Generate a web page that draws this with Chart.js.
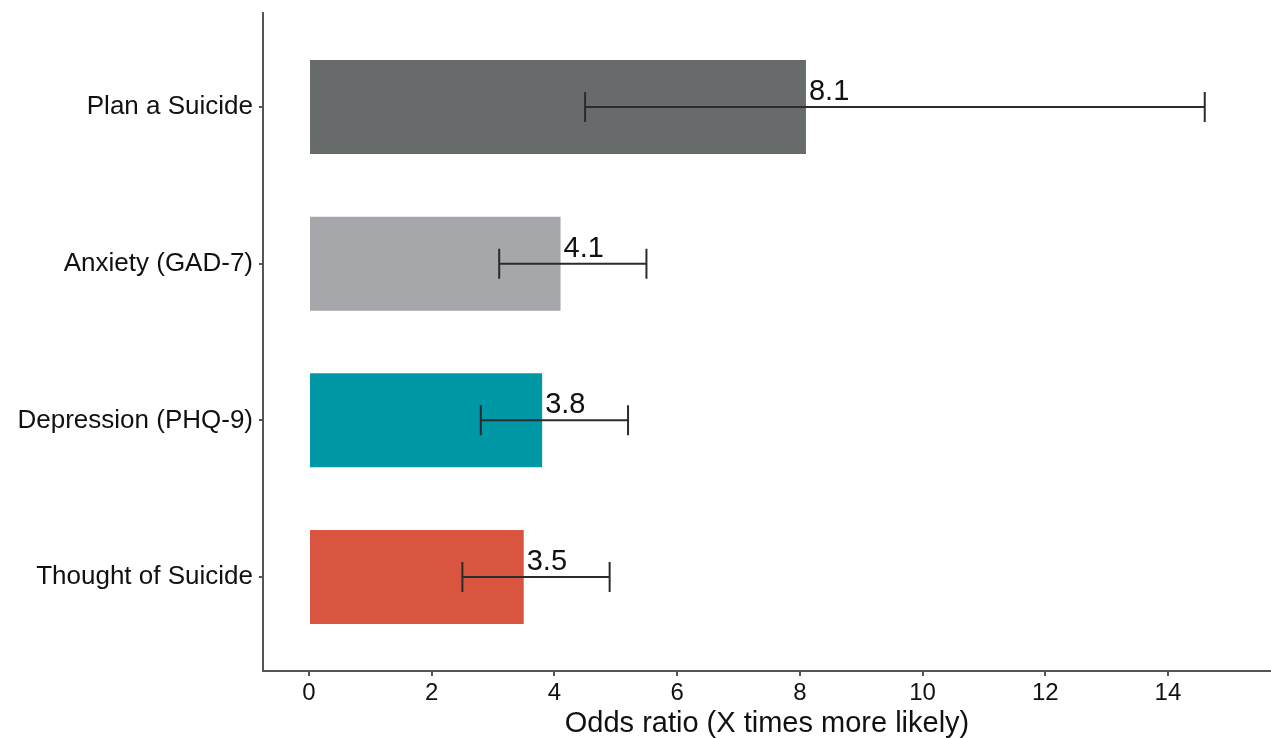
<!DOCTYPE html>
<html>
<head>
<meta charset="utf-8">
<title>Odds ratio</title>
<script src="https://cdn.jsdelivr.net/npm/chart.js@4/dist/chart.umd.min.js"></script>
<style>
  html, body { margin: 0; padding: 0; background: #ffffff; }
  #wrap { width: 1271px; height: 738px; position: relative; }
</style>
</head>
<body>
<div id="wrap"><canvas id="chart"></canvas></div>
<script>
// Outcomes, listed from top to bottom
const categories = ['Plan a Suicide', 'Anxiety (GAD-7)', 'Depression (PHQ-9)', 'Thought of Suicide'];
// Odds ratio per outcome
const oddsRatio = [8.1, 4.1, 3.8, 3.5];
// 95% confidence interval bounds
const ciLow = [4.5, 3.1, 2.8, 2.5];
const ciHigh = [14.6, 5.5, 5.2, 4.9];
// Bar fill colours
const barColors = ['#676b6b', '#a6a7aa', '#0098a7', '#d9553f'];
// X axis tick values
const xTicks = [0, 2, 4, 6, 8, 10, 12, 14];

const FONT = "'Liberation Sans', Arial, Helvetica, sans-serif";
const INK = '#111111';
const AXIS = '#555555';

const points = oddsRatio.map((v, i) => ({ x: v, y: i + 1 }));

// Error bars with caps, plus the value label next to each bar
const ciPlugin = {
  id: 'ciBars',
  afterDatasetsDraw(chart) {
    const { ctx, scales: { x, y } } = chart;
    ctx.save();
    ctx.strokeStyle = '#2b2b2b';
    ctx.lineWidth = 2;
    const cap = 15;
    oddsRatio.forEach((v, i) => {
      const py = y.getPixelForValue(i + 1);
      const x0 = x.getPixelForValue(ciLow[i]);
      const x1 = x.getPixelForValue(ciHigh[i]);
      ctx.beginPath();
      ctx.moveTo(x0, py); ctx.lineTo(x1, py);
      ctx.moveTo(x0, py - cap); ctx.lineTo(x0, py + cap);
      ctx.moveTo(x1, py - cap); ctx.lineTo(x1, py + cap);
      ctx.stroke();
    });
    ctx.fillStyle = INK;
    ctx.font = '29px ' + FONT;
    ctx.textAlign = 'left';
    ctx.textBaseline = 'alphabetic';
    oddsRatio.forEach((v, i) => {
      const py = y.getPixelForValue(i + 1);
      const px = x.getPixelForValue(v);
      ctx.fillText(v.toFixed(1), px + 3, py - 7);
    });
    ctx.restore();
  }
};

new Chart(document.getElementById('chart'), {
  type: 'bar',
  data: {
    datasets: [{
      data: points,
      backgroundColor: barColors,
      borderWidth: 0,
      barPercentage: 0.6,
      categoryPercentage: 1.0
    }]
  },
  options: {
    indexAxis: 'y',
    responsive: true,
    maintainAspectRatio: false,
    animation: false,
    layout: { padding: { top: 13, right: 0, left: 0, bottom: 0 } },
    plugins: { legend: { display: false }, tooltip: { enabled: false } },
    scales: {
      x: {
        type: 'linear',
        min: -0.75,
        max: 15.68,
        offset: false,
        afterBuildTicks(scale) { scale.ticks = xTicks.map(v => ({ value: v })); },
        afterFit(scale) { scale.height = 67; scale.paddingLeft = 0; scale.paddingRight = 0; },
        grid: { display: true, offset: false, drawOnChartArea: false, drawTicks: true, tickLength: 5, color: AXIS, lineWidth: 2 },
        border: { display: true, color: AXIS, width: 2 },
        ticks: { color: INK, font: { family: FONT, size: 24 }, padding: 3, maxRotation: 0 },
        title: {
          display: true,
          text: 'Odds ratio (X times more likely)',
          color: INK,
          font: { family: FONT, size: 29, lineHeight: 1.0 },
          padding: { top: 0, bottom: 0 }
        }
      },
      y: {
        type: 'linear',
        reverse: true,
        min: 0.4,
        max: 4.6,
        offset: false,
        afterBuildTicks(scale) { scale.ticks = categories.map((c, i) => ({ value: i + 1 })); },
        afterFit(scale) { scale.width = 263; scale.paddingTop = 0; scale.paddingBottom = 0; },
        grid: { display: true, offset: false, drawOnChartArea: false, drawTicks: true, tickLength: 4, color: AXIS, lineWidth: 2 },
        border: { display: true, color: AXIS, width: 2 },
        ticks: {
          color: INK,
          font: { family: FONT, size: 26 },
          padding: 6,
          callback: (val) => categories[Math.round(val) - 1]
        }
      }
    }
  },
  plugins: [ciPlugin]
});
</script>
</body>
</html>
